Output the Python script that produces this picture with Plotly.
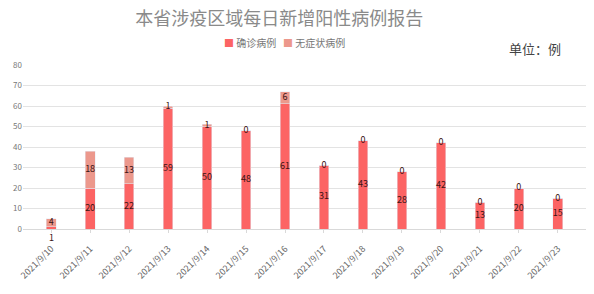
import plotly.graph_objects as go

dates = ["2021/9/10", "2021/9/11", "2021/9/12", "2021/9/13", "2021/9/14", "2021/9/15", "2021/9/16",
         "2021/9/17", "2021/9/18", "2021/9/19", "2021/9/20", "2021/9/21", "2021/9/22", "2021/9/23"]
confirmed = [1, 20, 22, 59, 50, 48, 61, 31, 43, 28, 42, 13, 20, 15]
asymptomatic = [4, 18, 13, 1, 1, 0, 6, 0, 0, 0, 0, 0, 0, 0]
series_names = ["确诊病例", "无症状病例"]

c_conf = "rgb(252,100,100)"
c_asym = "rgb(236,152,140)"
font = "Noto Sans CJK SC, sans-serif"
lab_color = "#3a1414"

fig = go.Figure()
fig.add_bar(x=dates, y=confirmed, name=series_names[0], marker_color=c_conf, width=0.25)
fig.add_bar(x=dates, y=asymptomatic, name=series_names[1], marker_color=c_asym, width=0.25)

# value labels for confirmed (normal-height segments)
big = [(d, v) for d, v in zip(dates, confirmed) if v >= 3]
fig.add_scatter(x=[d for d, _ in big], y=[v / 2 for _, v in big], text=[str(v) for _, v in big],
                mode="text", textfont=dict(size=9, color=lab_color, family=font), cliponaxis=False,
                showlegend=False, hoverinfo="skip")
# tiny confirmed segments: label just below the baseline
for d, v in zip(dates, confirmed):
    if v < 3:
        fig.add_annotation(x=d, y=0, text=str(v), showarrow=False, yanchor="top", yshift=0,
                           font=dict(size=9, color=lab_color, family=font))
fig.add_scatter(x=dates, y=[c + a / 2 for c, a in zip(confirmed, asymptomatic)],
                text=[str(v) for v in asymptomatic], mode="text",
                textfont=dict(size=9, color=lab_color, family=font), cliponaxis=False,
                showlegend=False, hoverinfo="skip")

fig.update_layout(
    barmode="stack",
    width=594, height=294,
    margin=dict(l=23, r=8, t=65, b=65),
    paper_bgcolor="white", plot_bgcolor="white",
    font=dict(family=font, color="#888"),
    showlegend=False,
    title=dict(text="本省涉疫区域每日新增阳性病例报告", x=0.47, xanchor="center", y=0.935, yanchor="middle",
               font=dict(size=18, color="#8a8a8a", family=font)),
    xaxis=dict(type="category", tickangle=-45, tickfont=dict(size=9, color="#666"),
               showline=True, linecolor="#d9d9d9", ticks="outside", ticklen=3, tickcolor="#d9d9d9",
               showgrid=False, ticklabelstandoff=7, automargin=False),
    yaxis=dict(range=[0, 80], dtick=10, tickfont=dict(size=8, color="#777"),
               gridcolor="#e3e3e3", zeroline=False, showline=False),
    bargap=0.5,
)
# legend drawn as text
fig.add_annotation(
    text=(f"<span style='color:{c_conf}'>■</span> {series_names[0]}"
          f"&nbsp;&nbsp;&nbsp;<span style='color:{c_asym}'>■</span> {series_names[1]}"),
    xref="paper", yref="paper", x=0.465, y=1.14, xanchor="center", yanchor="middle",
    showarrow=False, font=dict(size=10, color="#777", family=font))
fig.add_annotation(text="单位：例", xref="paper", yref="paper", x=0.96, y=1.10, xanchor="right",
                   yanchor="middle", showarrow=False,
                   font=dict(size=13, color="#444", family=font))

fig.write_html("out.html")
